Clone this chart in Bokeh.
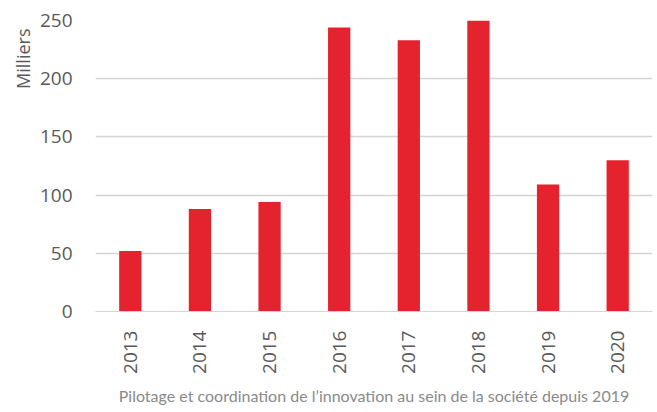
import math
from bokeh.plotting import figure
from bokeh.models import Range1d, FactorRange, Title, ColumnDataSource
from bokeh.embed import file_html
from bokeh.resources import INLINE

years = ["2013", "2014", "2015", "2016", "2017", "2018", "2019", "2020"]
values = [52, 88, 94, 244, 233, 250, 109, 130]
y_ticks = [0, 50, 100, 150, 200, 250]
y_label = "Milliers"
caption = "Pilotage et coordination de l\u2019innovation au sein de la soci\u00e9t\u00e9 depuis 2019"

src = ColumnDataSource(dict(year=years, value=values))

p = figure(x_range=FactorRange(*years, range_padding=0), y_range=Range1d(0, 250),
           width=656, height=412, output_backend="svg", toolbar_location=None,
           min_border_left=95, min_border_right=4, min_border_top=20, min_border_bottom=101)

p.vbar(x="year", top="value", width=0.32, source=src, color="#E5232E", line_color=None)

p.outline_line_color = None
p.xgrid.grid_line_color = None
p.ygrid.grid_line_color = "#d4d4d4"
p.ygrid.grid_line_width = 1.5
p.yaxis.ticker = y_ticks
p.yaxis.axis_line_color = None
p.yaxis.major_tick_line_color = None
p.yaxis.minor_tick_line_color = None
p.yaxis.major_label_standoff = 17
p.yaxis.major_label_text_font = "Open Sans"
p.yaxis.major_label_text_font_size = "19px"
p.yaxis.major_label_text_color = "#595959"

p.xaxis.axis_line_color = "#d4d4d4"
p.xaxis.major_tick_line_color = None
p.xaxis.minor_tick_line_color = None
p.xaxis.major_label_orientation = math.pi / 2
p.xaxis.major_label_standoff = 13
p.xaxis.major_label_text_font = "Open Sans"
p.xaxis.major_label_text_font_size = "19px"
p.xaxis.major_label_text_color = "#595959"

p.add_layout(Title(text=y_label, align="right", offset=8, standoff=4,
                   text_font="Open Sans", text_font_size="18px",
                   text_font_style="normal", text_color="#595959"), "left")
p.add_layout(Title(text=caption, align="center", standoff=15, text_line_height=1.0,
                   text_font="Lato", text_font_size="16px",
                   text_font_style="normal", text_color="#8a8a8a"), "below")

open("out.html", "w").write(file_html(p, INLINE))
